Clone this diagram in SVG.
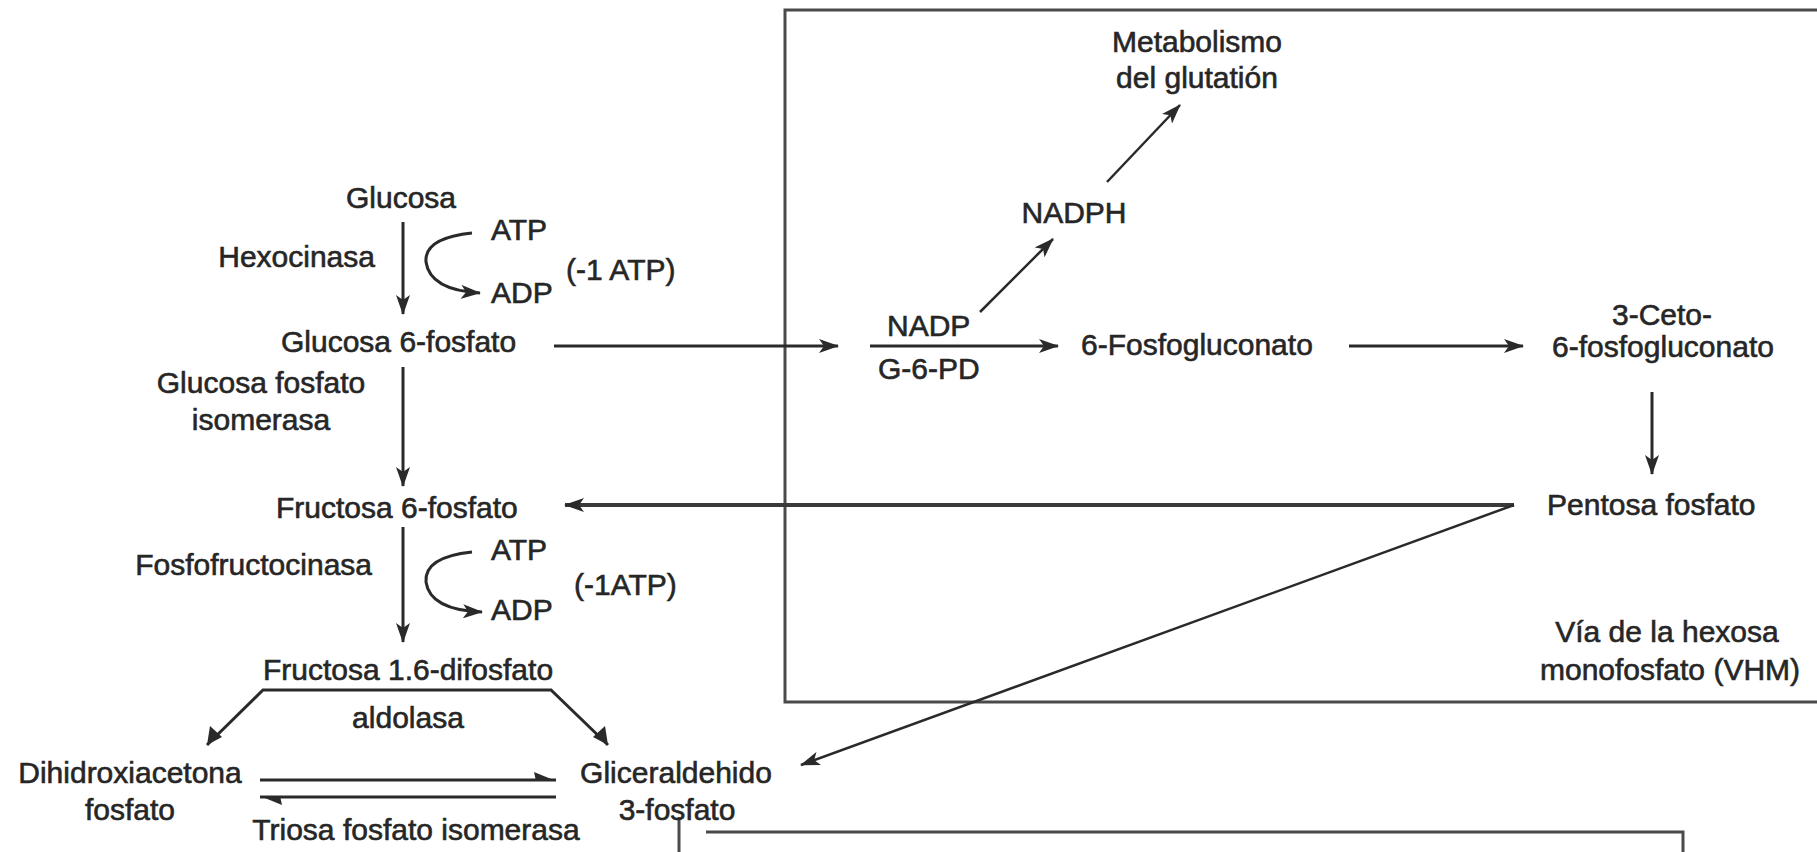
<svg xmlns="http://www.w3.org/2000/svg" width="1817" height="852" viewBox="0 0 1817 852">
<style>
text{font-family:"Liberation Sans",Arial,sans-serif;font-size:30px;fill:#262626;stroke:#262626;stroke-width:0.6}
.c{text-anchor:middle}
.e{text-anchor:end}
.ln{stroke:#2a2a2a;stroke-width:3;fill:none}
.box{stroke:#4a4a4a;stroke-width:3;fill:none}
.hd{fill:#2a2a2a}
</style>
<defs>
<marker id="ah" markerUnits="userSpaceOnUse" markerWidth="20" markerHeight="14" refX="19" refY="7" orient="auto">
<path d="M0,0 L20,7 L0,14 L5,7 Z" class="hd"/>
</marker>
</defs>
<rect width="1817" height="852" fill="#ffffff"/>
<g id="boxes">
<path class="box" d="M1820,10 H785 V702 H1820"/>
<path class="box" d="M706,832 H1683 V855"/>
<path class="box" d="M679,817 V855"/>
</g>
<g id="connectors">
<path class="ln" d="M403,222 V314" marker-end="url(#ah)"/>
<path class="ln" d="M472,233 Q424,238 426,262 Q430,290 480,293" marker-end="url(#ah)"/>
<path class="ln" d="M554,346 H838" marker-end="url(#ah)"/>
<path class="ln" d="M403,367 V486" marker-end="url(#ah)"/>
<path class="ln" d="M403,527 V642" marker-end="url(#ah)"/>
<path class="ln" d="M472,552 Q424,557 426,582 Q430,610 482,612" marker-end="url(#ah)"/>
<path class="ln" d="M207,745 L263,690 H551 L608,745" />
<path class="hd" d="M207,745 L210,726 L222,737 Z"/>
<path class="hd" d="M608,745 L593,737 L605,726 Z"/>
<path class="ln" d="M260,780 H556"/>
<path class="hd" d="M556,781 L534,772 L536,781 Z"/>
<path class="ln" d="M556,797 H260"/>
<path class="hd" d="M260,796 L282,805 L280,796 Z"/>
<path class="ln" d="M870,346 H1058" marker-end="url(#ah)"/>
<path class="ln" d="M980,312 L1053,239" marker-end="url(#ah)" style="stroke-width:2.5"/>
<path class="ln" d="M1107,182 L1180,105" marker-end="url(#ah)" style="stroke-width:2.5"/>
<path class="ln" d="M1349,346 H1523" marker-end="url(#ah)"/>
<path class="ln" d="M1652,392 V474" marker-end="url(#ah)"/>
<path class="ln" d="M1514,505 H565" marker-end="url(#ah)" style="stroke:#3a3a3a;stroke-width:4"/>
<path class="ln" d="M1514,505 L801,765" marker-end="url(#ah)" style="stroke-width:2.5"/>
</g>
<g id="n-glucosa"><text class="c" x="401" y="208">Glucosa</text></g>
<g id="n-hexocinasa"><text class="e" x="375" y="267">Hexocinasa</text></g>
<g id="n-atp1"><text x="491" y="240">ATP</text><text x="491" y="303">ADP</text><text x="566" y="280">(-1 ATP)</text></g>
<g id="n-g6p"><text x="281" y="352">Glucosa 6-fosfato</text></g>
<g id="n-gpi"><text class="c" x="261" y="393">Glucosa fosfato</text><text class="c" x="261" y="430">isomerasa</text></g>
<g id="n-f6p"><text x="276" y="518">Fructosa 6-fosfato</text></g>
<g id="n-pfk"><text class="e" x="372" y="575">Fosfofructocinasa</text></g>
<g id="n-atp2"><text x="491" y="560">ATP</text><text x="491" y="620">ADP</text><text x="574" y="595">(-1ATP)</text></g>
<g id="n-f16"><text class="c" x="408" y="680">Fructosa 1.6-difosfato</text></g>
<g id="n-aldolasa"><text class="c" x="408" y="728">aldolasa</text></g>
<g id="n-dhap"><text class="c" x="130" y="783">Dihidroxiacetona</text><text class="c" x="130" y="820">fosfato</text></g>
<g id="n-g3p"><text class="c" x="676" y="783">Gliceraldehido</text><text class="c" x="677" y="820">3-fosfato</text></g>
<g id="n-tpi"><text class="c" x="416" y="840">Triosa fosfato isomerasa</text></g>
<g id="n-metab"><text class="c" x="1197" y="52">Metabolismo</text><text class="c" x="1197" y="88">del glutatión</text></g>
<g id="n-nadph"><text class="c" x="1074" y="223">NADPH</text></g>
<g id="n-nadp"><text x="887" y="336">NADP</text><text x="878" y="379">G-6-PD</text></g>
<g id="n-6pg"><text x="1081" y="355">6-Fosfogluconato</text></g>
<g id="n-3ceto"><text class="c" x="1662" y="325">3-Ceto-</text><text class="c" x="1663" y="357">6-fosfogluconato</text></g>
<g id="n-pentosa"><text x="1547" y="515">Pentosa fosfato</text></g>
<g id="n-vhm"><text class="c" x="1667" y="642">Vía de la hexosa</text><text class="c" x="1670" y="680">monofosfato (VHM)</text></g>
</svg>
